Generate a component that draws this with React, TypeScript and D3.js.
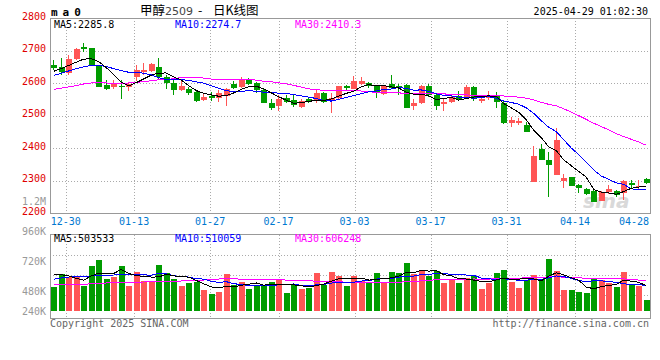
import React from 'react';
import * as d3 from 'd3';

const dates = [
  '12-26','12-27','12-30','12-31','01-02','01-03','01-06','01-07','01-08','01-09','01-10',
  '01-13','01-14','01-15','01-16','01-17','01-20','01-21','01-22','01-23','01-24','01-27',
  '02-05','02-06','02-07','02-10','02-11','02-12','02-13','02-14','02-17','02-18','02-19','02-20','02-21',
  '02-24','02-25','02-26','02-27','02-28','03-03','03-04','03-05','03-06','03-07','03-10','03-11','03-12','03-13','03-14',
  '03-17','03-18','03-19','03-20','03-21','03-24','03-25','03-26','03-27','03-28','03-31',
  '04-01','04-02','04-03','04-07','04-08','04-09','04-10','04-11','04-14','04-15','04-16','04-17','04-18',
  '04-21','04-22','04-23','04-24','04-25','04-28'
];

const opens = [2655,2650,2633,2676,2711,2708,2655,2595,2589,2592,2589,2620,2635,2638,2650,2620,2602,2579,2582,2572,
  2548,2561,2555,2560,2597,2589,2610,2600,2579,2539,2531,2555,2548,2528,2551,2548,2571,2550,2555,2592,
  2582,2598,2602,2591,2568,2599,2592,2594,2531,2540,2591,2563,2535,2541,2560,2555,2589,2545,2555,2563,
  2540,2479,2482,2473,2297,2398,2364,2318,2300,2311,2287,2275,2270,2239,2267,2270,2261,2292,2282,2307];
const highs = [2671,2678,2688,2709,2725,2710,2657,2609,2609,2609,2604,2655,2661,2663,2678,2625,2609,2609,2589,2576,
  2568,2574,2579,2586,2607,2620,2617,2604,2582,2553,2563,2563,2563,2553,2555,2579,2574,2571,2592,2596,
  2622,2620,2604,2594,2596,2625,2599,2599,2553,2594,2599,2568,2553,2563,2576,2594,2591,2563,2576,2573,
  2548,2497,2492,2481,2408,2412,2389,2461,2320,2313,2289,2279,2274,2269,2287,2272,2304,2302,2304,2309];
const lows = [2640,2627,2625,2671,2696,2653,2588,2579,2584,2553,2576,2607,2625,2635,2609,2584,2563,2576,2563,2541,
  2545,2545,2543,2530,2584,2586,2594,2569,2538,2519,2514,2538,2528,2525,2538,2538,2538,2509,2553,2576,
  2582,2596,2586,2555,2563,2584,2563,2524,2517,2535,2558,2519,2515,2538,2545,2553,2545,2538,2548,2525,
  2476,2466,2471,2450,2296,2363,2251,2317,2279,2284,2261,2256,2234,2238,2258,2251,2241,2277,2275,2289];
const closes = [2648,2635,2676,2707,2706,2655,2589,2584,2599,2589,2599,2640,2640,2658,2620,2601,2579,2592,2571,2546,
  2558,2555,2571,2582,2586,2613,2597,2578,2540,2525,2553,2543,2533,2547,2545,2571,2541,2555,2591,2587,
  2606,2606,2591,2570,2591,2587,2588,2525,2540,2591,2563,2531,2541,2558,2548,2589,2553,2553,2563,2541,
  2478,2487,2484,2451,2376,2364,2348,2425,2310,2285,2277,2259,2236,2267,2275,2256,2300,2287,2285,2292];
const volumes = [486,734,674,686,506,906,1020,640,686,906,506,780,600,600,920,766,634,506,566,586,
  420,340,386,740,520,586,440,520,520,586,620,366,520,440,454,766,520,786,700,500,
  700,606,586,766,574,786,766,966,740,820,700,806,566,620,554,654,700,440,554,766,
  820,586,466,620,720,634,1040,806,420,420,386,366,634,620,554,486,790,534,500,220].map(v => v * 1000);

const ma5Head = [2637,2645,2655,2665];
const ma10Head = [2624,2631,2638,2645,2651,2655,2655,2652,2645];
const ma30Head = [2581,2585,2589,2593,2598,2601,2602,2601,2600,2600,2601,2603,2605,2608,2611,2612,2614,2618,2619,2618,
  2616,2613,2611,2611,2611,2611,2611,2610,2606];
const vma5Head = [735000,728000,700000,650000];
const vma10Head = [634000,660000,680000,690000,695000,700000,710000,715000,720000];
const vma30Head = [520000,525000,530000,534000,534000,545000,554000,560000,566000,570000,574000,574000,580000,586000,586000,586000,590000,600000,615000,620000,
  620000,625000,640000,654000,650000,634000,634000,620000,622000];

// legend texts as printed on the chart
const priceLegendNames = ['MA5', 'MA10', 'MA30'];
const priceLegendValues = ['2285.8', '2274.7', '2410.3'];
const volLegendValues = ['503533', '510059', '606248'];

const priceTicks = [2800,2700,2600,2500,2400,2300,2200];
const volTickLabels = ['1.2M','960K','720K','480K','240K'];
const volTickValues = [1200000,960000,720000,480000,240000];
const dateTicks = ['12-30','01-13','01-27','02-17','03-03','03-17','03-31','04-14','04-28'];

const RED = '#ff5555';
const GREEN = '#009c00';
const MA_COLORS = ['#000000', '#0000ff', '#ff00ff'];
const MONO = '"DejaVu Sans Mono", "Liberation Mono", monospace';

function movingAvg(arr: number[], n: number, head: number[]): number[] {
  return arr.map((_, i) => i < n - 1 ? head[i] : d3.mean(arr.slice(i - n + 1, i + 1)) as number);
}

export default function App() {
  const W = 660, H = 360;
  const L = 50, R = 650;
  const x = d3.scaleBand<number>().domain(d3.range(closes.length)).range([L, R]);
  const cx = (i: number) => (x(i) as number) + x.bandwidth() / 2;
  const gridX = d3.scaleLinear().domain([2, 69]).range([65.7, 575]);
  const yP = d3.scaleLinear().domain([2200, 2800]).range([213.3, 18.3]);
  const yV = d3.scaleLinear().domain([0, 1000000]).range([311, 261]);
  const yVLabel = d3.scaleLinear().domain([0, 1200000]).range([351, 201]);

  const ma5 = movingAvg(closes, 5, ma5Head);
  const ma10 = movingAvg(closes, 10, ma10Head);
  const ma30 = movingAvg(closes, 30, ma30Head);
  const vma5 = movingAvg(volumes, 5, vma5Head);
  const vma10 = movingAvg(volumes, 10, vma10Head);
  const vma30 = movingAvg(volumes, 30, vma30Head);

  const lineP = d3.line<number>().x((_, i) => cx(i)).y(v => yP(v));
  const lineV = d3.line<number>().x((_, i) => cx(i)).y(v => yV(v));

  const tickIdx = dateTicks.map(t => dates.indexOf(t));
  const mainTop = yP(2800), mainBot = yP(2200);
  const volTop = 234.5, volBot = 318.5;
  const volGrid = [255.5, 275.5, 295.5];
  const legendX = [54, 175, 295];

  const dotted = { stroke: '#aaa', strokeWidth: 1, strokeDasharray: '1,2', shapeRendering: 'crispEdges' as const };
  const up = (i: number) => closes[i] > opens[i] || (closes[i] === opens[i] && i > 0 && closes[i] >= closes[i - 1]);

  return (
    <div style={{ position: 'absolute', left: 0, top: 0 }}>
      <svg width={W} height={H} style={{ display: 'block', background: '#fff' }}>
        {/* header */}
        <text x={51} y={16} fontFamily={MONO} fontWeight="bold" fontSize={11} letterSpacing={5}>ma0</text>
        <g fontFamily='"Noto Sans CJK SC", sans-serif' fontSize={12.5} fill="#000">
          <text x={140} y={15}>甲醇<tspan fill="#444" fontFamily='"DejaVu Sans", sans-serif' fontSize={11}>2509</tspan></text>
          <text x={198} y={15}>-</text>
          <text x={213} y={15}>日K线图</text>
        </g>
        <text x={648} y={15} textAnchor="end" fontFamily={MONO} fontSize={10} fill="#000">2025-04-29 01:02:30</text>

        {/* main grid */}
        {priceTicks.filter(p => p !== 2800 && p !== 2200).map(p => (
          <line key={p} x1={L} x2={R} y1={Math.round(yP(p)) + 0.5} y2={Math.round(yP(p)) + 0.5} {...dotted} />
        ))}
        {tickIdx.slice(0, -1).map((ti, k) => (
          <g key={k}>
            <line x1={Math.round(gridX(ti)) + 0.5} x2={Math.round(gridX(ti)) + 0.5} y1={mainTop} y2={mainBot} {...dotted} />
            <line x1={Math.round(gridX(ti)) + 0.5} x2={Math.round(gridX(ti)) + 0.5} y1={volTop} y2={volBot} {...dotted} />
          </g>
        ))}
        {volGrid.map((g, k) => (
          <line key={k} x1={L} x2={R} y1={g} y2={g} {...dotted} />
        ))}

        {/* borders */}
        <g stroke="#999" strokeWidth={1} fill="none" shapeRendering="crispEdges">
          <rect x={L + 0.5} y={Math.round(mainTop) + 0.5} width={R - L} height={Math.round(mainBot) - Math.round(mainTop)} />
          <rect x={L + 0.5} y={volTop} width={R - L} height={volBot - volTop} />
        </g>

        {/* price labels */}
        {priceTicks.map(p => (
          <text key={p} x={46} y={yP(p) + 1.5} textAnchor="end" fontFamily={MONO} fontSize={10} fill="#e00000">{p}</text>
        ))}
        {volTickLabels.map((lbl, k) => (
          <text key={lbl} x={46} y={Math.min(yVLabel(volTickValues[k]), 311) + 3.5} textAnchor="end" fontFamily={MONO} fontSize={10} fill="#999">{lbl}</text>
        ))}

        {/* date labels */}
        {tickIdx.map((ti, k) => {
          const w = 30;
          const c = Math.max(L + w / 2, Math.min(R - 1 - w / 2, gridX(ti)));
          return <text key={k} x={c} y={225} textAnchor="middle" fontFamily={MONO} fontSize={10} fill="#0078d0">{dateTicks[k]}</text>;
        })}

        {/* watermark */}
        <text x={583} y={208} fontFamily='"DejaVu Sans", sans-serif' fontStyle="italic" fontWeight="bold" fontSize={20} fill="#d0d0d0" opacity={0.8}>sina</text>

        {/* candles */}
        <g shapeRendering="crispEdges">
          {closes.map((c, i) => {
            const col = up(i) ? RED : GREEN;
            const xc = Math.floor(cx(i)) + 0.5;
            const yTop = yP(Math.max(opens[i], c));
            const yBot = yP(Math.min(opens[i], c));
            return (
              <g key={i}>
                <line x1={xc} x2={xc} y1={yP(highs[i])} y2={yP(lows[i])} stroke={col} strokeWidth={1} />
                <rect x={Math.floor(cx(i)) - 2.5} y={yTop} width={6} height={Math.max(1.5, yBot - yTop)} fill={col} />
              </g>
            );
          })}
        </g>

        {/* MA lines main */}
        <g fill="none" strokeWidth={1} shapeRendering="crispEdges">
          <path d={lineP(ma30) as string} stroke={MA_COLORS[2]} />
          <path d={lineP(ma10) as string} stroke={MA_COLORS[1]} />
          <path d={lineP(ma5) as string} stroke={MA_COLORS[0]} />
        </g>

        {/* volume bars */}
        <g shapeRendering="crispEdges">
          {volumes.map((v, i) => (
            <rect key={i} x={Math.floor(cx(i)) - 2.5} y={yV(v)} width={6} height={yV(0) - yV(v)} fill={up(i) ? RED : GREEN} />
          ))}
        </g>
        <g fill="none" strokeWidth={1} shapeRendering="crispEdges">
          <path d={lineV(vma30) as string} stroke={MA_COLORS[2]} />
          <path d={lineV(vma10) as string} stroke={MA_COLORS[1]} />
          <path d={lineV(vma5) as string} stroke={MA_COLORS[0]} />
        </g>

        {/* legends */}
        <g fontFamily={MONO} fontSize={10}>
          {priceLegendNames.map((n, k) => (
            <text key={'p' + k} x={legendX[k]} y={27.5} fill={MA_COLORS[k]}>{n}:{priceLegendValues[k]}</text>
          ))}
          {priceLegendNames.map((n, k) => (
            <text key={'v' + k} x={legendX[k]} y={242} fill={MA_COLORS[k]}>{n}:{volLegendValues[k]}</text>
          ))}
        </g>

        {/* footer */}
        <text x={50} y={327} fontFamily={MONO} fontSize={10} fill="#666">Copyright 2025 SINA.COM</text>
        <text x={649} y={327} textAnchor="end" fontFamily={MONO} fontSize={10} fill="#666">http://finance.sina.com.cn</text>
      </svg>
    </div>
  );
}
